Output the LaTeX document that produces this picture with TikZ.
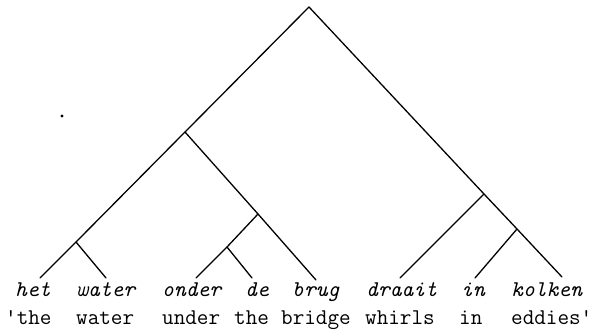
\documentclass[tikz,border=0pt]{standalone}
\usepackage{fontspec}
\begin{document}
\begin{tikzpicture}[x=1pt,y=-1pt,
  branch/.style={line width=1.3pt, line cap=round, line join=round},
  dutch/.style={anchor=base west, inner sep=0pt, font=\fontsize{22.5}{23}\selectfont\ttfamily\itshape},
  gloss/.style={anchor=base west, inner sep=0pt, font=\fontsize{22.5}{23}\selectfont\ttfamily}]
\useasboundingbox (0,0) rectangle (594,330);
% joints
\coordinate (R) at (309,7);
\coordinate (L) at (185,132);
\coordinate (HW) at (76,242);
\coordinate (OB) at (258,214);
\coordinate (OD) at (227,247);
\coordinate (DIK) at (484,194);
\coordinate (IK) at (517,229);
% leaf ends
\coordinate (eH) at (40,278);
\coordinate (eW) at (106,278);
\coordinate (eO) at (196,278);
\coordinate (eD) at (252,278);
\coordinate (eB) at (316,280);
\coordinate (eDr) at (400,278);
\coordinate (eI) at (475,278);
\coordinate (eK) at (562,277);
% branches
\draw[branch] (eH) -- (HW) -- (L) -- (R) -- (DIK) -- (IK) -- (eK);
\draw[branch] (HW) -- (eW);
\draw[branch] (L) -- (OB) -- (eB);
\draw[branch] (OB) -- (OD) -- (eO);
\draw[branch] (OD) -- (eD);
\draw[branch] (DIK) -- (eDr);
\draw[branch] (IK) -- (eI);
% stray dot
\fill (62,116) circle (1.7pt);
% Dutch words
\node[dutch] (w1) at (15,296) {het};
\node[dutch] (w2) at (76,296) {water};
\node[dutch] (w3) at (162,296) {onder};
\node[dutch] (w4) at (245,296) {de};
\node[dutch] (w5) at (292,296) {brug};
\node[dutch] (w6) at (366,296) {draait};
\node[dutch] (w7) at (461,296) {in};
\node[dutch] (w8) at (511,296) {kolken};
% gloss
\node[gloss] (g1) at (5,324) {'the};
\node[gloss] (g2) at (76,324) {water};
\node[gloss] (g3) at (162,324) {under};
\node[gloss] (g4) at (234,324) {the};
\node[gloss] (g5) at (281,324) {bridge};
\node[gloss] (g6) at (365,324) {whirls};
\node[gloss] (g7) at (459,324) {in};
\node[gloss] (g8) at (511,324) {eddies'};
\end{tikzpicture}
\end{document}
